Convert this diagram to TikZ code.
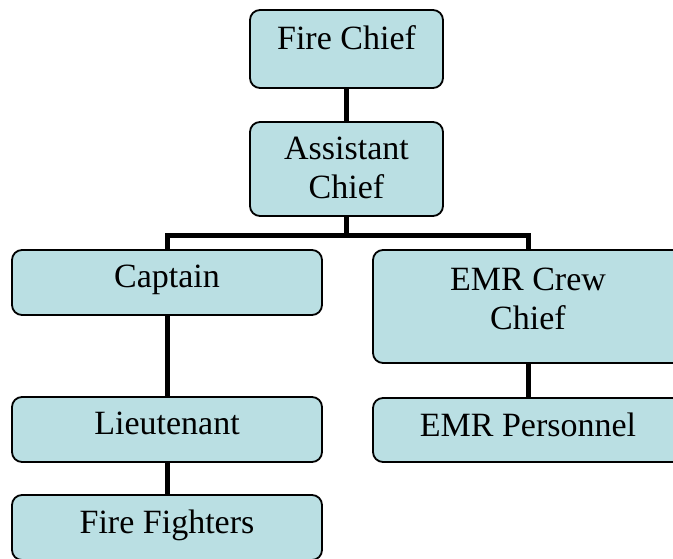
\documentclass[tikz,border=0pt]{standalone}
\usepackage{fontspec}
\setmainfont{Liberation Serif}
\usetikzlibrary{backgrounds}
\definecolor{postfill}{RGB}{186,223,227}
\tikzset{
    post/.style={draw=black, line width=1.8pt, fill=postfill, rounded corners=10pt, inner sep=0pt},
    title/.style={anchor=north, align=center, inner sep=0pt, yshift=-16pt, font=\fontsize{34}{39}\selectfont},
    link/.style={line width=5pt}
}
\begin{document}
\begin{tikzpicture}[x=1pt, y=-1pt]
    \useasboundingbox (0,0) rectangle (673,558);

    % Boxes
    \node [post, minimum width=193pt, minimum height=78pt] (chief) at (346.5,49) {};
    \node [post, minimum width=193pt, minimum height=94pt] (assist) at (346.5,169) {};
    \node [post, minimum width=310pt, minimum height=65pt] (capt) at (167,282.5) {};
    \node [post, minimum width=310pt, minimum height=113pt] (crew) at (528,306.5) {};
    \node [post, minimum width=310pt, minimum height=65pt] (lieut) at (167,429.5) {};
    \node [post, minimum width=310pt, minimum height=64pt] (emr) at (528,430) {};
    \node [post, minimum width=310pt, minimum height=65pt] (fighters) at (167,527.5) {};

    % Connectors (behind the boxes)
    \begin{scope}[on background layer]
        \draw [link] (chief.south) -- (assist.north);
        \draw [link] (assist.south) -- ++(0,19) coordinate (bar);
        \draw [link] (capt.north) |- (bar) -| (crew.north);
        \draw [link] (capt.south) -- (lieut.north);
        \draw [link] (lieut.south) -- (fighters.north);
        \draw [link] (crew.south) -- (emr.north);
    \end{scope}

    % Titles
    \node [title] (chief_t) at (chief.north) {Fire Chief};
    \node [title] (assist_t) at (assist.north) {Assistant\\Chief};
    \node [title] (capt_t) at (capt.north) {Captain};
    \node [title, yshift=-3pt] (crew_t) at (crew.north) {EMR Crew\\Chief};
    \node [title] (lieut_t) at (lieut.north) {Lieutenant};
    \node [title] (emr_t) at (emr.north) {EMR Personnel};
    \node [title] (fighters_t) at (fighters.north) {Fire Fighters};
\end{tikzpicture}
\end{document}
